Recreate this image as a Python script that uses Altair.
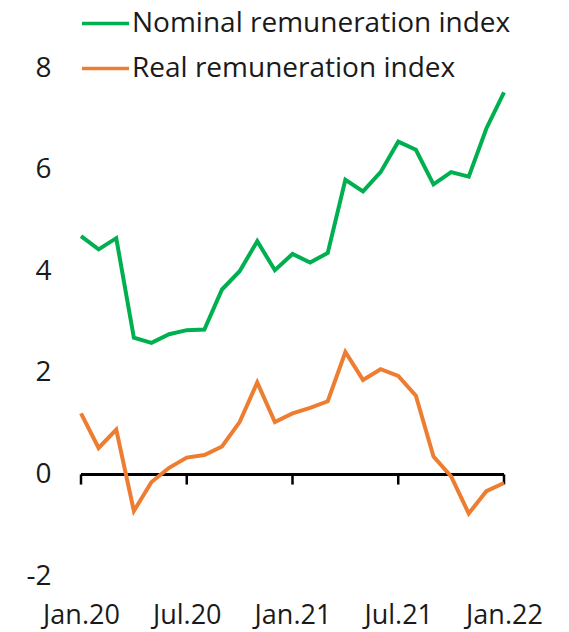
import json
import altair as alt
import pandas as pd

# Monthly, Jan.2020 .. Jan.2022 (index 0..24)
month_index = list(range(25))
nominal = [4.69, 4.43, 4.65, 2.69, 2.59, 2.76, 2.84, 2.85, 3.64, 4.00, 4.59, 4.02, 4.34,
           4.17, 4.36, 5.80, 5.57, 5.95, 6.55, 6.39, 5.71, 5.95, 5.86, 6.81, 7.52]
real = [1.20, 0.52, 0.88, -0.72, -0.15, 0.13, 0.33, 0.38, 0.55, 1.03, 1.81, 1.03, 1.20,
        1.31, 1.44, 2.41, 1.86, 2.07, 1.94, 1.55, 0.35, -0.04, -0.77, -0.33, -0.17]
series_names = ["Nominal remuneration index", "Real remuneration index"]
series_colors = ["#00B050", "#ED7D31"]
tick_positions = [0, 6, 12, 18, 24]
tick_labels = ["Jan.20", "Jul.20", "Jan.21", "Jul.21", "Jan.22"]
y_ticks = [-2, 0, 2, 4, 6, 8]

FONT = "Open Sans"

df = pd.concat([
    pd.DataFrame({"m": month_index, "value": nominal, "series": series_names[0]}),
    pd.DataFrame({"m": month_index, "value": real, "series": series_names[1]}),
])
ticks_df = pd.DataFrame({"m": tick_positions})

label_expr = json.dumps(tick_labels) + "[round(datum.value / 6)]"

x_scale = alt.Scale(domain=[0, 24], nice=False, zero=False)
y_scale = alt.Scale(domain=[-2, 8], nice=False, zero=False)

lines = alt.Chart(df).mark_line(strokeWidth=4, strokeJoin="miter").encode(
    x=alt.X("m:Q", scale=x_scale,
            axis=alt.Axis(values=tick_positions, labelExpr=label_expr, domain=False,
                          ticks=False, grid=False, labelPadding=26, labelFontSize=27,
                          labelFont=FONT, labelColor="#1a1a1a", title=None,
                          labelOverlap=False, labelFlush=False)),
    y=alt.Y("value:Q", scale=y_scale,
            axis=alt.Axis(values=y_ticks, labelExpr="toString(datum.value)",
                          domain=False, ticks=False, grid=False,
                          labelPadding=30, labelFontSize=28, labelFont=FONT,
                          labelColor="#1a1a1a", title=None)),
    color=alt.Color("series:N",
                    scale=alt.Scale(domain=series_names, range=series_colors),
                    legend=alt.Legend(orient="none", legendX=-1, legendY=-70, title=None,
                                      symbolType="stroke", symbolSize=2209,
                                      symbolStrokeWidth=3.5, labelFont=FONT,
                                      labelFontSize=28, labelColor="#1a1a1a",
                                      labelOffset=1, rowPadding=5, padding=0,
                                      labelLimit=600)),
    detail="series:N",
)

baseline = alt.Chart(ticks_df).mark_rule(color="black", strokeWidth=2.5).encode(
    x=alt.datum(0), x2=alt.datum(24), y=alt.datum(0)
)

tick_marks = alt.Chart(ticks_df).mark_rule(color="black", strokeWidth=2.5).encode(
    x=alt.X("m:Q", scale=x_scale), y=alt.datum(0), y2=alt.datum(-0.2)
)

chart = alt.layer(baseline, tick_marks, lines).properties(
    width=423, height=508,
    autosize=alt.AutoSizeParams(type="none"),
    padding={"left": 73, "top": 60, "right": 50, "bottom": 56},
).configure_view(stroke=None)

chart.save("out.html", embed_options={"renderer": "svg", "actions": False})
